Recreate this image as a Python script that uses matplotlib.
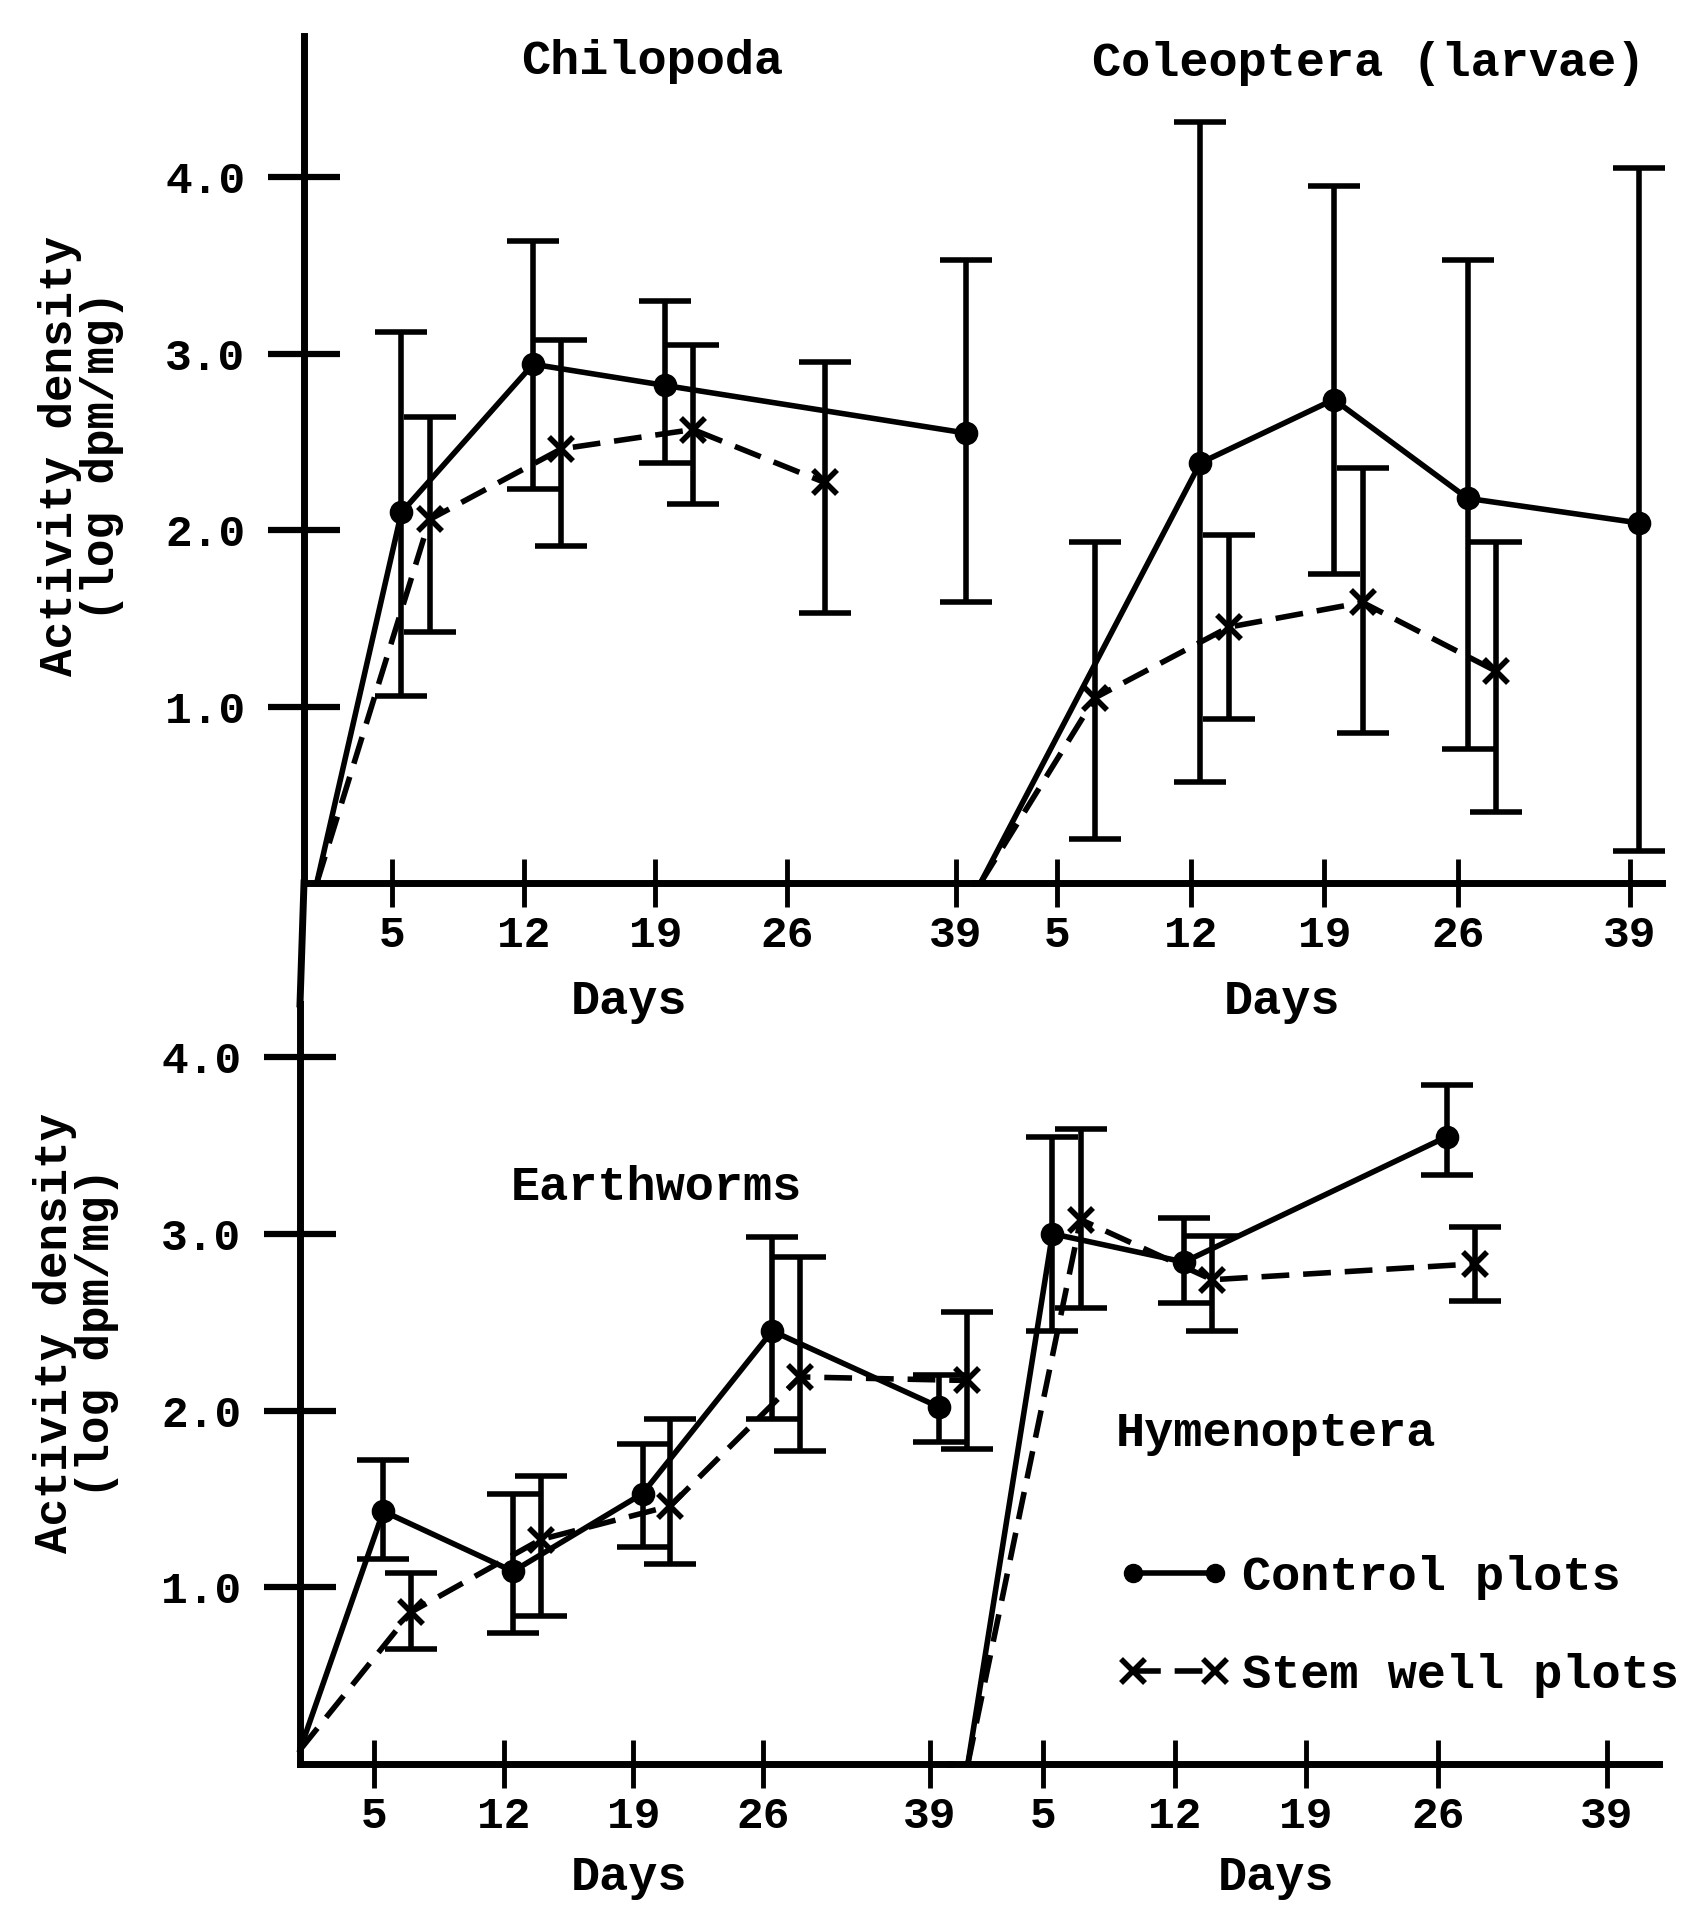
import numpy as np
import matplotlib.pyplot as plt
from matplotlib.lines import Line2D

plt.rcParams['font.family'] = ['Liberation Mono', 'DejaVu Sans Mono']
plt.rcParams['font.weight'] = 'bold'

# sampling days; 39 sits closer to 26 on the original axis
days = [0, 5, 12, 19, 26, 39]
tick_days = [5, 12, 19, 26, 39]
day_pos = {0: 1.0, 5: 5, 12: 12, 19: 19, 26: 26, 39: 35}
nan = np.nan

# Chilopoda
chil_ctrl = [0, 2.10, 2.94, 2.82, nan, 2.55]
chil_ctrl_lo = [nan, 1.06, 2.23, 2.38, nan, 1.59]
chil_ctrl_hi = [nan, 3.12, 3.64, 3.30, nan, 3.53]
chil_stem = [0, 2.06, 2.46, 2.57, 2.27, nan]
chil_stem_lo = [nan, 1.42, 1.91, 2.15, 1.53, nan]
chil_stem_hi = [nan, 2.64, 3.08, 3.05, 2.95, nan]

# Coleoptera (larvae)
cole_ctrl = [0, nan, 2.38, 2.74, 2.18, 2.04]
cole_ctrl_lo = [nan, nan, 0.57, 1.75, 0.76, 0.18]
cole_ctrl_hi = [nan, nan, 4.31, 3.95, 3.53, 4.05]
cole_stem = [0, 1.05, 1.45, 1.59, 1.20, nan]
cole_stem_lo = [nan, 0.25, 0.93, 0.85, 0.40, nan]
cole_stem_hi = [nan, 1.93, 1.97, 2.35, 1.93, nan]

# Earthworms
earth_ctrl = [0.08, 1.43, 1.09, 1.53, 2.45, 2.02]
earth_ctrl_lo = [nan, 1.16, 0.74, 1.23, 1.95, 1.82]
earth_ctrl_hi = [nan, 1.72, 1.53, 1.81, 2.98, 2.20]
earth_stem = [0.08, 0.86, 1.27, 1.46, 2.19, 2.17]
earth_stem_lo = [nan, 0.65, 0.84, 1.13, 1.77, 1.78]
earth_stem_hi = [nan, 1.08, 1.63, 1.95, 2.87, 2.56]

# Hymenoptera
hym_ctrl = [0, 3.00, 2.84, nan, 3.55, nan]
hym_ctrl_lo = [nan, 2.45, 2.61, nan, 3.33, nan]
hym_ctrl_hi = [nan, 3.55, 3.09, nan, 3.84, nan]
hym_stem = [0, 3.08, 2.74, nan, 2.83, nan]
hym_stem_lo = [nan, 2.58, 2.45, nan, 2.62, nan]
hym_stem_hi = [nan, 3.59, 2.99, nan, 3.04, nan]

W, H = 1695, 1905
fig = plt.figure(figsize=(W / 100, H / 100), dpi=100)
LW = 4


def px_axes(x0, x1, y_top, y_bot):
    return fig.add_axes([x0 / W, 1 - y_bot / H, (x1 - x0) / W, (y_bot - y_top) / H])


def draw_series(ax, vals, lo, hi, off, ls, marker, ms):
    vals = np.array(vals, float)
    lo = np.array(lo, float)
    hi = np.array(hi, float)
    x = np.array([day_pos[d] + (off if d > 0 else 0) for d in days])
    ok = ~np.isnan(vals)
    xs, ys = x[ok], vals[ok]
    marks = [i for i, d in enumerate(np.array(days)[ok]) if d > 0]
    ax.plot(xs, ys, color='black', lw=LW, ls=ls, marker=marker, ms=ms,
            mew=LW, markevery=marks, clip_on=False, zorder=3)
    eb = ~np.isnan(lo)
    ax.errorbar(x[eb], vals[eb], yerr=[vals[eb] - lo[eb], hi[eb] - vals[eb]],
                fmt='none', ecolor='black', elinewidth=LW, capsize=19,
                capthick=LW, clip_on=False, zorder=3)


def style(ax, xlim, ylim, left):
    ax.set_xlim(*xlim)
    ax.set_ylim(*ylim)
    for s in ['top', 'right']:
        ax.spines[s].set_visible(False)
    ax.spines['bottom'].set_linewidth(5)
    ax.spines['left'].set_linewidth(5)
    ax.set_xticks([day_pos[d] for d in tick_days])
    ax.set_xticklabels([str(d) for d in tick_days])
    ax.tick_params(axis='x', direction='inout', length=34, width=3.5, labelsize=32, pad=6)
    if left:
        ax.set_yticks([1, 2, 3, 4])
        ax.set_yticklabels(['1.0', '2.0', '3.0', '4.0'])
        ax.tick_params(axis='y', direction='inout', length=52, width=4.5, labelsize=32, pad=16)
    else:
        ax.spines['left'].set_visible(False)
        ax.tick_params(axis='y', left=False, labelleft=False)
    ax.patch.set_alpha(0)


ax_tl = px_axes(304, 975, 36, 883)
ax_tr = px_axes(975, 1662, 36, 883)
ax_bl = px_axes(300, 950, 1004, 1764)
ax_br = px_axes(950, 1659, 1004, 1764)

style(ax_tl, (0.32, 36.0), (0, 4.8), True)
style(ax_tr, (0.71, 36.68), (0, 4.8), False)
style(ax_bl, (1.0, 36.1), (0, 4.3), True)
style(ax_br, (0.05, 37.77), (0, 4.3), False)

dash = (0, (5, 2.5))
panels = [
    (ax_tl, chil_ctrl, chil_ctrl_lo, chil_ctrl_hi, chil_stem, chil_stem_lo, chil_stem_hi),
    (ax_tr, cole_ctrl, cole_ctrl_lo, cole_ctrl_hi, cole_stem, cole_stem_lo, cole_stem_hi),
    (ax_bl, earth_ctrl, earth_ctrl_lo, earth_ctrl_hi, earth_stem, earth_stem_lo, earth_stem_hi),
    (ax_br, hym_ctrl, hym_ctrl_lo, hym_ctrl_hi, hym_stem, hym_stem_lo, hym_stem_hi),
]
for ax, c, clo, chi, s, slo, shi in panels:
    draw_series(ax, c, clo, chi, 0.5, '-', 'o', 13)
    draw_series(ax, s, slo, shi, 2.0, dash, 'x', 17)

# y axis runs on through the gap between the two rows
fig.add_artist(Line2D([304 / W, 300 / W], [1 - 883 / H, 1 - 1004 / H],
                      transform=fig.transFigure, color='black', lw=5))


def ftext(x, y, s, **kw):
    fig.text(x / W, 1 - y / H, s, ha='center', va='center', fontsize=35, **kw)


ftext(652, 61, 'Chilopoda')
ftext(1369, 64, 'Coleoptera (larvae)')
ftext(656, 1188, 'Earthworms')
ftext(1276, 1434, 'Hymenoptera')
ftext(629, 1002, 'Days')
ftext(1282, 1002, 'Days')
ftext(629, 1878, 'Days')
ftext(1276, 1878, 'Days')
fig.text(81 / W, 1 - 456 / H, 'Activity density\n(log dpm/mg)', rotation=90,
         ha='center', va='center', fontsize=33, linespacing=0.95, multialignment='center')
fig.text(76 / W, 1 - 1333 / H, 'Activity density\n(log dpm/mg)', rotation=90,
         ha='center', va='center', fontsize=33, linespacing=0.95, multialignment='center')

h_ctrl = Line2D([], [], color='black', lw=LW, marker='o', ms=13)
h_stem = Line2D([], [], color='black', lw=LW, ls=dash, marker='x', ms=17, mew=LW)
fig.legend([h_ctrl, h_stem], ['Control plots', 'Stem well plots'], loc='upper left',
           bbox_to_anchor=(1118 / W, 1 - 1555 / H), frameon=False, numpoints=2,
           handlelength=2.3, handletextpad=0.25, labelspacing=1.1, fontsize=35,
           borderpad=0, borderaxespad=0)

fig.savefig('out.png', dpi=100, facecolor='white')
